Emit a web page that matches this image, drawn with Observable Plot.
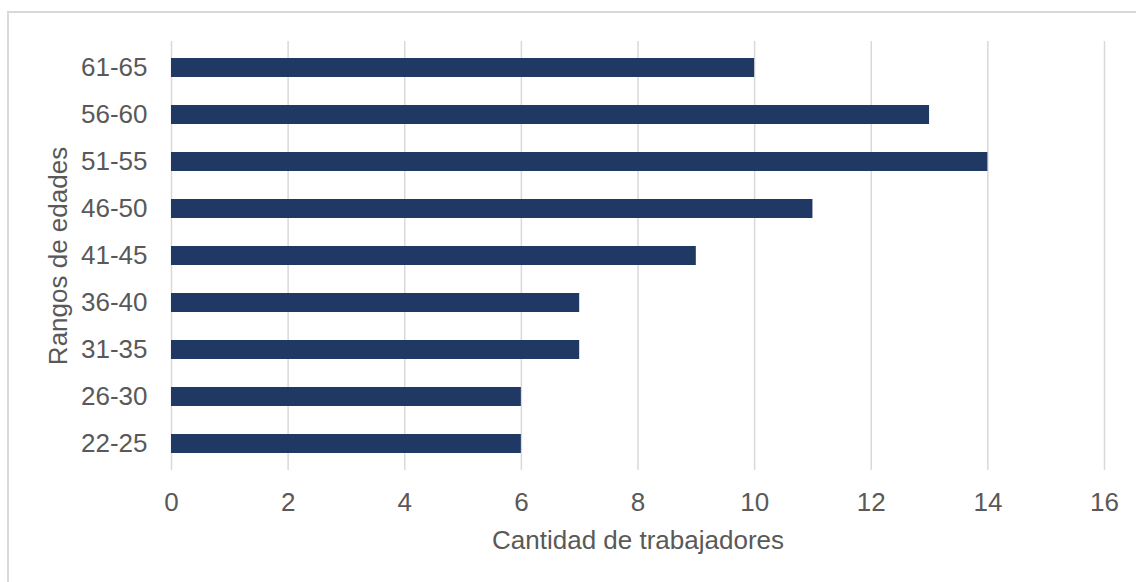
<!DOCTYPE html>
<html>
<head>
<meta charset="utf-8">
<script src="https://cdn.jsdelivr.net/npm/d3@7"></script>
<script src="https://cdn.jsdelivr.net/npm/@observablehq/plot@0.6"></script>
<style>
  html, body { margin: 0; padding: 0; background: #fff; overflow: hidden; }
  #wrap { position: relative; width: 1136px; height: 582px; overflow: hidden; }
  #frame { position: absolute; left: 7px; top: 11px; width: 1200px; height: 700px;
           border-top: 2px solid #d9d9d9; border-left: 2px solid #d9d9d9; box-sizing: border-box; }
  #chart { position: absolute; left: 0; top: 0; }
</style>
</head>
<body>
<div id="wrap"><div id="frame"></div><div id="chart"></div></div>
<script>
const categories = ["22-25", "26-30", "31-35", "36-40", "41-45", "46-50", "51-55", "56-60", "61-65"];
const values = [6, 6, 7, 7, 9, 11, 14, 13, 10];
const xTicks = [0, 2, 4, 6, 8, 10, 12, 14, 16];
const xTitle = "Cantidad de trabajadores";
const yTitle = "Rangos de edades";

const data = categories.map((c, i) => ({rango: c, cantidad: values[i]}));

const chart = Plot.plot({
  width: 1136,
  height: 582,
  marginLeft: 171,
  marginRight: 32,
  marginTop: 41,
  marginBottom: 112,
  style: {fontFamily: "'Liberation Sans', Arial, sans-serif", fontSize: "26px", color: "#595959", background: "transparent"},
  x: {domain: [0, 16], ticks: xTicks, label: null},
  y: {domain: categories.slice().reverse(), paddingInner: 0.6, paddingOuter: 0.3, label: null},
  marks: [
    Plot.gridX(xTicks, {stroke: "#d9d9d9", strokeOpacity: 1, strokeWidth: 1.5}),
    Plot.barX(data, {x: "cantidad", y: "rango", fill: "#203864"}),
    Plot.axisX({ticks: xTicks, tickSize: 0, tickPadding: 22, label: null, fontSize: 26}),
    Plot.axisY({tickSize: 0, tickPadding: 24, label: null, fontSize: 26}),
    Plot.text([xTitle], {text: d => d, frameAnchor: "bottom", dy: 70, lineAnchor: "middle", fontSize: 26, fill: "#595959"}),
    Plot.text([yTitle], {text: d => d, frameAnchor: "left", dx: -113, rotate: -90, textAnchor: "middle", lineAnchor: "middle", fontSize: 26, fill: "#595959"})
  ]
});
document.getElementById("chart").appendChild(chart);
</script>
</body>
</html>
